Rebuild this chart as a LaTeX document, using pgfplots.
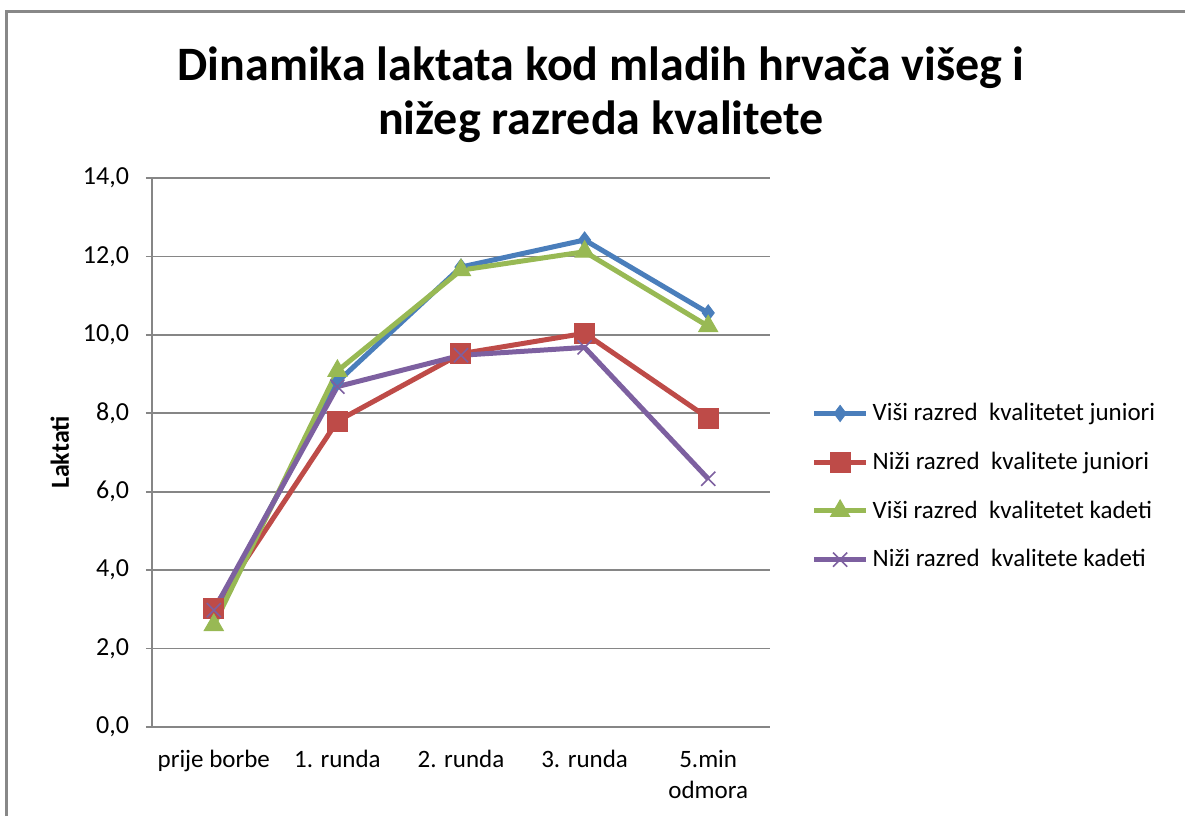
\documentclass[border=0pt]{standalone}
\usepackage{pgfplots}
\pgfplotsset{compat=1.18}
\usepackage{fontspec}
\setmainfont{Carlito}
\definecolor{xlblue}{RGB}{74,126,187}
\definecolor{xlred}{RGB}{190,75,72}
\definecolor{xlgreen}{RGB}{152,185,84}
\definecolor{xlpurple}{RGB}{125,96,160}
\definecolor{gridgray}{RGB}{134,134,134}
\definecolor{framegray}{RGB}{136,136,136}

\begin{document}
\begin{tikzpicture}
\useasboundingbox (0pt,0pt) rectangle (592.5pt,-408pt);
\draw[framegray, line width=1.5pt] (3pt,-408pt) -- (3pt,-5.5pt) -- (592.5pt,-5.5pt);
\node[font=\fontsize{24}{27}\selectfont\bfseries, align=center] at (300.5pt,-47.5pt)
  {Dinamika laktata kod mladih hrvača višeg i\\nižeg razreda kvalitete};
\begin{axis}[
    at={(76pt,-363.5pt)}, anchor=south west,
    scale only axis, width=309pt, height=274.5pt,
    xmin=0, xmax=5, ymin=0, ymax=14,
    xtick={0.5,1.5,2.5,3.5,4.5},
    xticklabels={prije borbe,1. runda,2. runda,3. runda,{5.min\\odmora}},
    xticklabel style={align=center, font=\fontsize{12.5}{15.5}\selectfont, yshift=-5pt},
    ytick={0,2,...,14},
    yticklabel style={font=\fontsize{13}{14}\selectfont, xshift=-5pt},
    /pgf/number format/.cd, fixed, fixed zerofill, precision=1, use comma, assume math mode=true,
    /pgfplots/.cd,
    ylabel={Laktati},
    ylabel style={font=\fontsize{13}{14}\selectfont\bfseries},
    axis x line*=bottom, axis y line*=left,
    axis line style={gridgray, line width=0.9pt},
    x axis line style={-}, y axis line style={-},
    ymajorgrids, grid style={gridgray, line width=0.9pt},
    major x tick style={draw=none},
    major y tick style={gridgray, line width=0.9pt},
    tick align=outside, major tick length=3pt,
    clip=false,
    legend style={at={(1.057,0.605)}, anchor=north west, draw=none, fill=none,
      font=\fontsize{12.5}{13}\selectfont, row sep=10.2pt,
      cells={anchor=west}},
    legend image code/.code={\draw[mark repeat=2, mark phase=2, #1]
      plot coordinates {(0pt,0pt) (13pt,0pt) (26pt,0pt)};},
    every axis plot/.append style={line width=2.5pt},
]
\addplot[color=xlblue, mark=diamond*, mark size=4pt, mark options={solid, line width=0.5pt}]
  coordinates {(0.5,2.86) (1.5,8.80) (2.5,11.73) (3.5,12.42) (4.5,10.56)};
\addplot[color=xlred, mark=square*, mark size=5pt, mark options={solid, line width=0.5pt}]
  coordinates {(0.5,3.03) (1.5,7.80) (2.5,9.52) (3.5,10.04) (4.5,7.88)};
\addplot[color=xlgreen, mark=triangle*, mark size=5.5pt, mark options={solid, line width=0.5pt}]
  coordinates {(0.5,2.60) (1.5,9.08) (2.5,11.65) (3.5,12.12) (4.5,10.22)};
\addplot[color=xlpurple, mark=x, mark size=5pt, mark options={solid, line width=0.8pt}]
  coordinates {(0.5,2.98) (1.5,8.68) (2.5,9.48) (3.5,9.68) (4.5,6.33)};
\legend{Viši razred\ \ kvalitetet juniori, Niži razred\ \ kvalitete juniori,
  Viši razred\ \ kvalitetet kadeti, Niži razred\ \ kvalitete kadeti}
\end{axis}
\end{tikzpicture}
\end{document}
